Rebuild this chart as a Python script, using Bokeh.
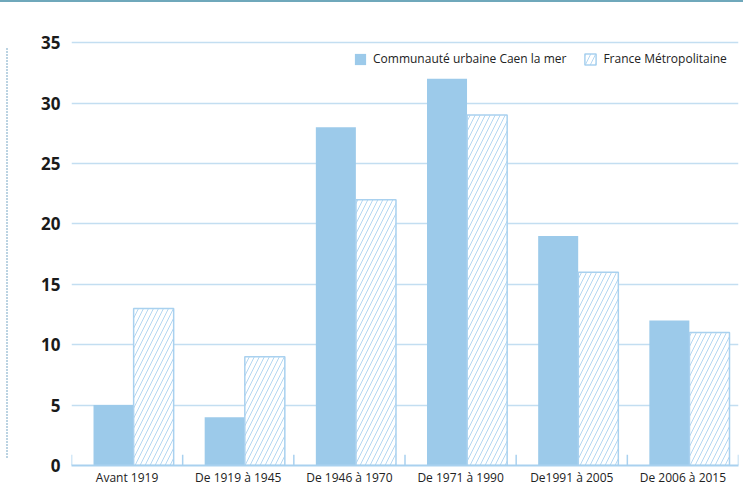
from bokeh.plotting import figure
from bokeh.models import FactorRange, Range1d, Legend, LegendItem, ColumnDataSource, FixedTicker, Div
from bokeh.transform import dodge
from bokeh.layouts import row, column
from bokeh.embed import file_html
from bokeh.resources import INLINE

categories = ["Avant 1919", "De 1919 à 1945", "De 1946 à 1970", "De 1971 à 1990", "De1991 à 2005", "De 2006 à 2015"]
caen = [5, 4, 28, 32, 19, 12]
france = [13, 9, 22, 29, 16, 11]
y_ticks = [0, 5, 10, 15, 20, 25, 30, 35]
series_names = ["Communauté urbaine Caen la mer", "France Métropolitaine"]

SOLID = "#9ccaea"
LIGHT = "#a9d1ef"
GRID = "#c3def1"
TEAL = "#6fa8bb"

src = ColumnDataSource(dict(cat=categories, caen=caen, france=france))

p = figure(x_range=FactorRange(*categories), y_range=Range1d(0, 36),
           width=735, height=486, output_backend="svg", toolbar_location=None,
           min_border_left=63, min_border_right=5, min_border_top=28, min_border_bottom=22)
p.outline_line_color = None
p.background_fill_color = "white"

r1 = p.vbar(x=dodge("cat", -0.122, range=p.x_range), top="caen", width=0.36, source=src,
            fill_color=SOLID, line_color=None)
r2 = p.vbar(x=dodge("cat", 0.239, range=p.x_range), top="france", width=0.36, source=src,
            fill_color="white", line_color=LIGHT, line_width=1.5,
            hatch_pattern="/", hatch_color=LIGHT, hatch_scale=10, hatch_weight=0.9)

# boundary ticks between groups
bounds = list(range(len(categories) + 1))
p.segment(x0=bounds, x1=bounds, y0=[0] * len(bounds), y1=[0.9] * len(bounds),
          line_color=LIGHT, line_width=1.5)

p.xgrid.grid_line_color = None
p.ygrid.grid_line_color = GRID
p.ygrid.grid_line_width = 1.5
p.yaxis.ticker = FixedTicker(ticks=y_ticks)
p.yaxis.axis_line_color = None
p.yaxis.major_tick_line_color = None
p.yaxis.minor_tick_line_color = None
p.yaxis.major_tick_out = 0
p.yaxis.major_tick_in = 0
p.yaxis.major_label_text_font = "Open Sans"
p.yaxis.major_label_text_font_style = "bold"
p.yaxis.major_label_text_font_size = "17px"
p.yaxis.major_label_text_color = "#1a1a1a"
p.yaxis.major_label_standoff = 11

p.xaxis.axis_line_color = LIGHT
p.xaxis.axis_line_width = 2
p.xaxis.major_tick_line_color = None
p.xaxis.minor_tick_line_color = None
p.xaxis.major_tick_out = 0
p.xaxis.major_tick_in = 0
p.xaxis.major_label_text_font = "Open Sans"
p.xaxis.major_label_text_font_size = "12px"
p.xaxis.major_label_text_color = "#222222"
p.xaxis.major_label_standoff = 3

legend = Legend(items=[LegendItem(label=series_names[0], renderers=[r1]),
                       LegendItem(label=series_names[1], renderers=[r2])],
                orientation="horizontal", location=(282, 398))
legend.glyph_width = 14
legend.glyph_height = 14
legend.label_height = 14
legend.label_standoff = 6
legend.spacing = 17
legend.padding = 0
legend.margin = 0
legend.border_line_color = None
legend.background_fill_alpha = 0
legend.label_text_font = "Open Sans"
legend.label_text_font_size = "12px"
legend.label_text_color = "#222222"
p.add_layout(legend, "center")

# thin left strip with the dotted vertical rule
s = figure(width=8, height=486, x_range=Range1d(0, 8), y_range=Range1d(488, 2),
           output_backend="svg", toolbar_location=None,
           min_border_left=0, min_border_right=0, min_border_top=0, min_border_bottom=0)
s.axis.visible = False
s.grid.visible = False
s.outline_line_color = None
s.segment(x0=[6.5], x1=[6.5], y0=[22], y1=[479], line_color="#4a8ab3", line_width=1.5, line_dash="1 2")

# top rule
t = Div(text="", width=743, height=2, margin=(0, 0, 0, 0),
        styles={"background-color": TEAL})

layout = column(t, row(s, p, spacing=0), spacing=0)
open("out.html", "w").write(file_html(layout, INLINE))
